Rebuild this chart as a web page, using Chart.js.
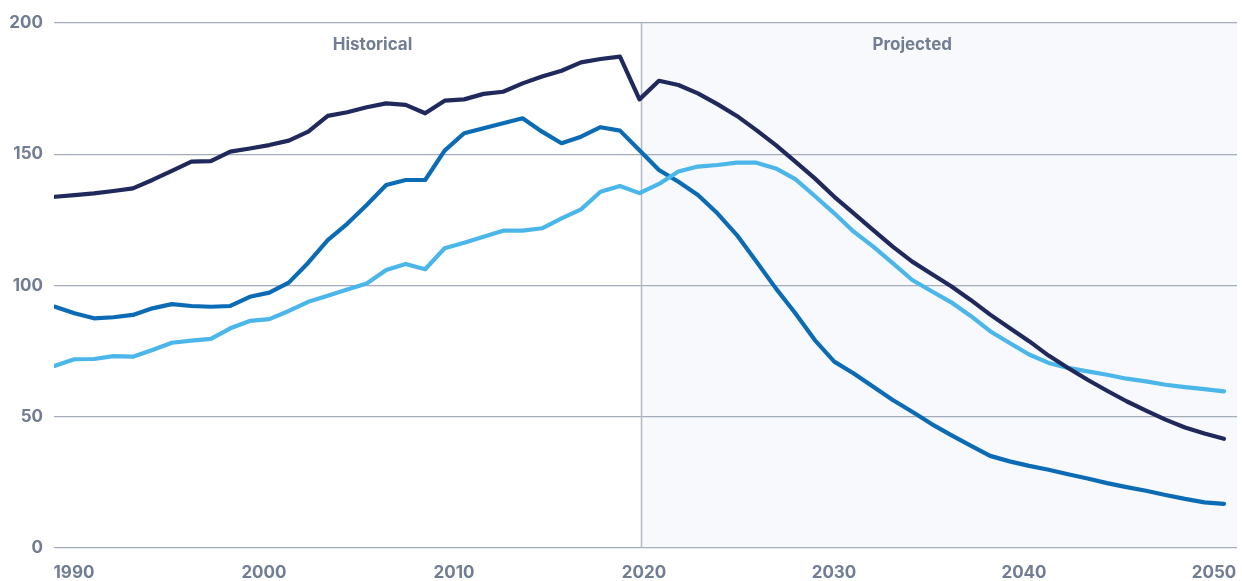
<!DOCTYPE html>
<html>
<head>
<meta charset="utf-8">
<script src="https://cdn.jsdelivr.net/npm/chart.js@4/dist/chart.umd.min.js"></script>
<style>
  html, body { margin: 0; padding: 0; background: #ffffff; }
  #wrap { width: 1242px; height: 581px; position: relative; }
</style>
</head>
<body>
<div id="wrap"><canvas id="chart"></canvas></div>
<script>
// years 1990..2050
const years = [];
for (let y = 1990; y <= 2050; y++) years.push(y);

const darkSeries = [
  133.8, 134.4, 135.1, 136.0, 137.0, 140.2, 143.7, 147.2, 147.4, 151.0,
  152.2, 153.5, 155.2, 158.6, 164.6, 166.0, 167.9, 169.4, 168.8, 165.6,
  170.4, 170.9, 173.0, 173.8, 177.0, 179.6, 181.8, 185.0, 186.3, 187.2,
  170.9, 178.0, 176.4, 173.2, 169.1, 164.6, 159.2, 153.5, 147.2, 140.8,
  133.8, 127.5, 121.1, 114.8, 109.1, 104.4, 99.7, 94.5, 88.9, 83.8,
  78.8, 73.3, 68.6, 64.1, 59.9, 55.9, 52.3, 48.9, 45.9, 43.6,
  41.6
];

const mediumSeries = [
  91.9, 89.4, 87.5, 87.9, 88.8, 91.3, 92.9, 92.2, 91.9, 92.2,
  95.7, 97.3, 101.1, 108.7, 117.3, 123.5, 130.7, 138.3, 140.2, 140.2,
  151.4, 158.0, 159.9, 161.8, 163.7, 158.6, 154.2, 156.7, 160.3, 159.0,
  151.5, 144.0, 139.5, 134.5, 127.5, 119.2, 109.1, 98.9, 89.4, 79.2,
  71.0, 66.5, 61.4, 56.4, 51.9, 47.2, 43.0, 39.0, 35.1, 33.0,
  31.3, 29.8, 28.1, 26.5, 24.7, 23.2, 21.8, 20.2, 18.7, 17.4,
  16.8
];

const lightSeries = [
  69.4, 71.9, 72.0, 73.1, 72.9, 75.4, 78.2, 79.0, 79.7, 83.7,
  86.5, 87.2, 90.3, 93.8, 96.1, 98.5, 100.8, 105.9, 108.2, 106.2,
  114.2, 116.3, 118.6, 120.9, 120.9, 121.8, 125.6, 129.0, 135.7, 137.9,
  135.2, 138.7, 143.4, 145.3, 145.9, 146.8, 146.8, 144.6, 140.5, 134.1,
  127.5, 120.5, 114.8, 108.5, 102.1, 97.8, 93.6, 88.4, 82.6, 78.1,
  73.7, 70.5, 68.6, 67.3, 66.0, 64.5, 63.5, 62.2, 61.3, 60.5,
  59.7
];

const yTicks = [0, 50, 100, 150, 200];
const xTickYears = [1990, 2000, 2010, 2020, 2030, 2040, 2050];
const projectionStart = 2020;
const periodLabels = [
  { text: "Historical", year: 2006.3 },
  { text: "Projected", year: 2034 }
];

const textColor = "#717d92";
const gridColor = "#a5adbb";
const fontFamily = "Inter, 'Open Sans', sans-serif";

const toPoints = (arr) => arr.map((v, i) => ({ x: years[i], y: v }));

const projectionPlugin = {
  id: "projection",
  beforeDraw(chart) {
    const { ctx, chartArea, scales } = chart;
    const x0 = scales.x.getPixelForValue(projectionStart + 0.1);
    ctx.save();
    ctx.fillStyle = "#f8f9fc";
    ctx.fillRect(x0, chartArea.top, chartArea.right - x0, chartArea.bottom - chartArea.top);
    ctx.restore();
  },
  beforeDatasetsDraw(chart) {
    const { ctx, chartArea, scales } = chart;
    const x0 = Math.round(scales.x.getPixelForValue(projectionStart + 0.1)) + 0.5;
    ctx.save();
    ctx.strokeStyle = "#b3b9c5";
    ctx.lineWidth = 1.5;
    ctx.beginPath();
    ctx.moveTo(x0, chartArea.top);
    ctx.lineTo(x0, chartArea.bottom);
    ctx.stroke();

    ctx.fillStyle = textColor;
    ctx.font = "700 17px " + fontFamily;
    ctx.textAlign = "center";
    ctx.textBaseline = "middle";
    periodLabels.forEach((p) => {
      ctx.fillText(p.text, scales.x.getPixelForValue(p.year), chartArea.top + 22);
    });
    ctx.restore();
  }
};

const ctx = document.getElementById("chart").getContext("2d");
new Chart(ctx, {
  type: "line",
  data: {
    datasets: [
      { label: "Dark", data: toPoints(darkSeries), borderColor: "#20295c" },
      { label: "Light", data: toPoints(lightSeries), borderColor: "#4bb6e9" },
      { label: "Medium", data: toPoints(mediumSeries), borderColor: "#0b6cb5" }
    ].map((d) => ({
      ...d,
      borderWidth: 4.2,
      pointRadius: 0,
      tension: 0,
      borderCapStyle: "round",
      borderJoinStyle: "round",
      fill: false
    }))
  },
  options: {
    responsive: true,
    maintainAspectRatio: false,
    animation: false,
    layout: { padding: { top: 23, right: 5, left: 0, bottom: 0 } },
    plugins: {
      legend: { display: false },
      tooltip: { enabled: false }
    },
    scales: {
      x: {
        type: "linear",
        display: false,
        min: 1989.95,
        max: 2050.67
      },
      xl: {
        type: "linear",
        position: "bottom",
        min: 1988.95,
        max: 2051.21,
        afterFit: (s) => { s.height = 33; s.paddingLeft = 0; s.paddingRight = 0; },
        border: { display: false },
        grid: { display: false, drawTicks: false },
        afterBuildTicks: (s) => { s.ticks = xTickYears.map((v) => ({ value: v })); },
        ticks: {
          padding: 15,
          color: textColor,
          font: { family: fontFamily, size: 17, weight: "700" },
          maxRotation: 0,
          autoSkip: false,
          callback: (v) => String(v)
        }
      },
      y: {
        min: 0,
        max: 200,
        afterFit: (s) => { s.width = 54; },
        border: { display: false },
        grid: { color: gridColor, lineWidth: 1.3, drawTicks: false },
        afterBuildTicks: (s) => { s.ticks = yTicks.map((v) => ({ value: v })); },
        ticks: {
          padding: 11,
          color: textColor,
          font: { family: fontFamily, size: 17, weight: "700" },
          callback: (v) => String(v)
        }
      }
    }
  },
  plugins: [projectionPlugin]
});
</script>
</body>
</html>
